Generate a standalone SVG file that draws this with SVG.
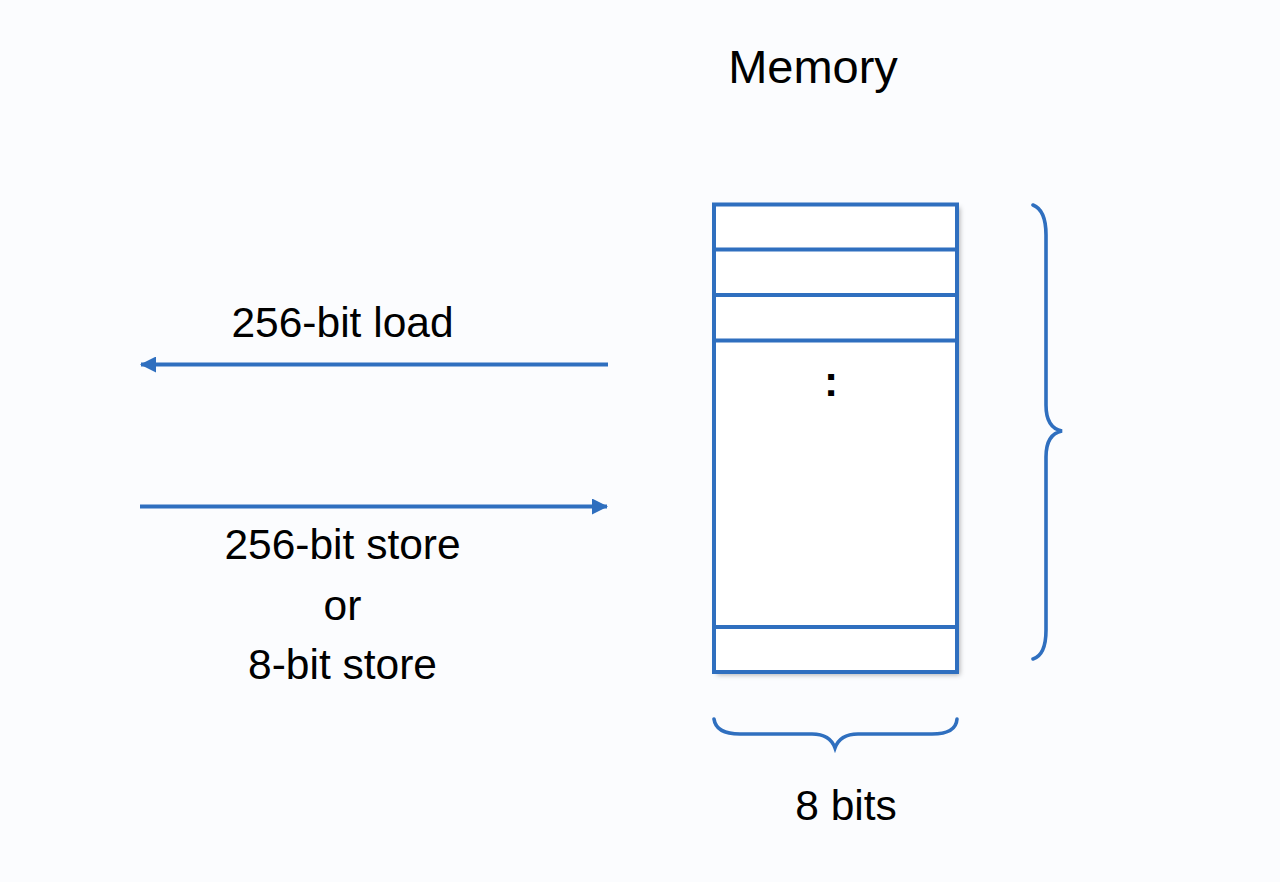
<svg xmlns="http://www.w3.org/2000/svg" width="1280" height="882" viewBox="0 0 1280 882">
<defs>
<style>
.t{font-family:"Liberation Sans",Arial,sans-serif;font-size:42.5px;fill:#000;text-anchor:middle}
.b{fill:none;stroke:#2F6FBF;stroke-width:4}
.c{fill:none;stroke:#2F6FBF;stroke-width:3.6;stroke-linecap:round}
</style>
<marker id="ah" viewBox="0 0 16 16" refX="15" refY="8" markerWidth="16" markerHeight="16" markerUnits="userSpaceOnUse" orient="auto">
<path d="M0,0 L16,8 L0,16 Z" fill="#2F6FBF"/>
</marker>
<filter id="sh" x="-10%" y="-10%" width="125%" height="125%">
<feDropShadow dx="3" dy="3" stdDeviation="2.5" flood-color="#000" flood-opacity="0.3"/>
</filter>
</defs>
<rect width="1280" height="882" fill="#FBFCFE"/>
<g id="title"><text class="t" x="813" y="83" style="font-size:47px">Memory</text></g>
<g id="memory">
<rect x="714" y="204.5" width="243" height="467.5" fill="#fff" filter="url(#sh)"/>
<rect class="b" x="714" y="204.5" width="243" height="467.5"/>
<line class="b" x1="714" y1="249.5" x2="957" y2="249.5"/>
<line class="b" x1="714" y1="295" x2="957" y2="295"/>
<line class="b" x1="714" y1="340.5" x2="957" y2="340.5"/>
<line class="b" x1="714" y1="627" x2="957" y2="627"/>
<text class="t" x="831" y="396" style="font-weight:bold">:</text>
</g>
<g id="brace-right"><path class="c" d="M1033,205 Q1046,210 1046,235 L1046,405 Q1046,428 1062,431 Q1046,434 1046,457 L1046,630 Q1046,655 1033,659"/></g>
<g id="brace-bottom"><path class="c" d="M714,719 Q716,734 740,734 L812,734 Q830,734 835,748 Q840,734 858,734 L932,734 Q956,734 957,719"/></g>
<g id="connectors">
<line class="b" x1="608" y1="364.5" x2="141" y2="364.5" marker-end="url(#ah)"/>
<line class="b" x1="140" y1="506.5" x2="607" y2="506.5" marker-end="url(#ah)"/>
</g>
<g id="labels">
<text class="t" x="342.5" y="337">256-bit load</text>
<text class="t" x="342.5" y="559">256-bit store</text>
<text class="t" x="342.5" y="620">or</text>
<text class="t" x="342.5" y="679">8-bit store</text>
<text class="t" x="846" y="820">8 bits</text>
</g>
</svg>
